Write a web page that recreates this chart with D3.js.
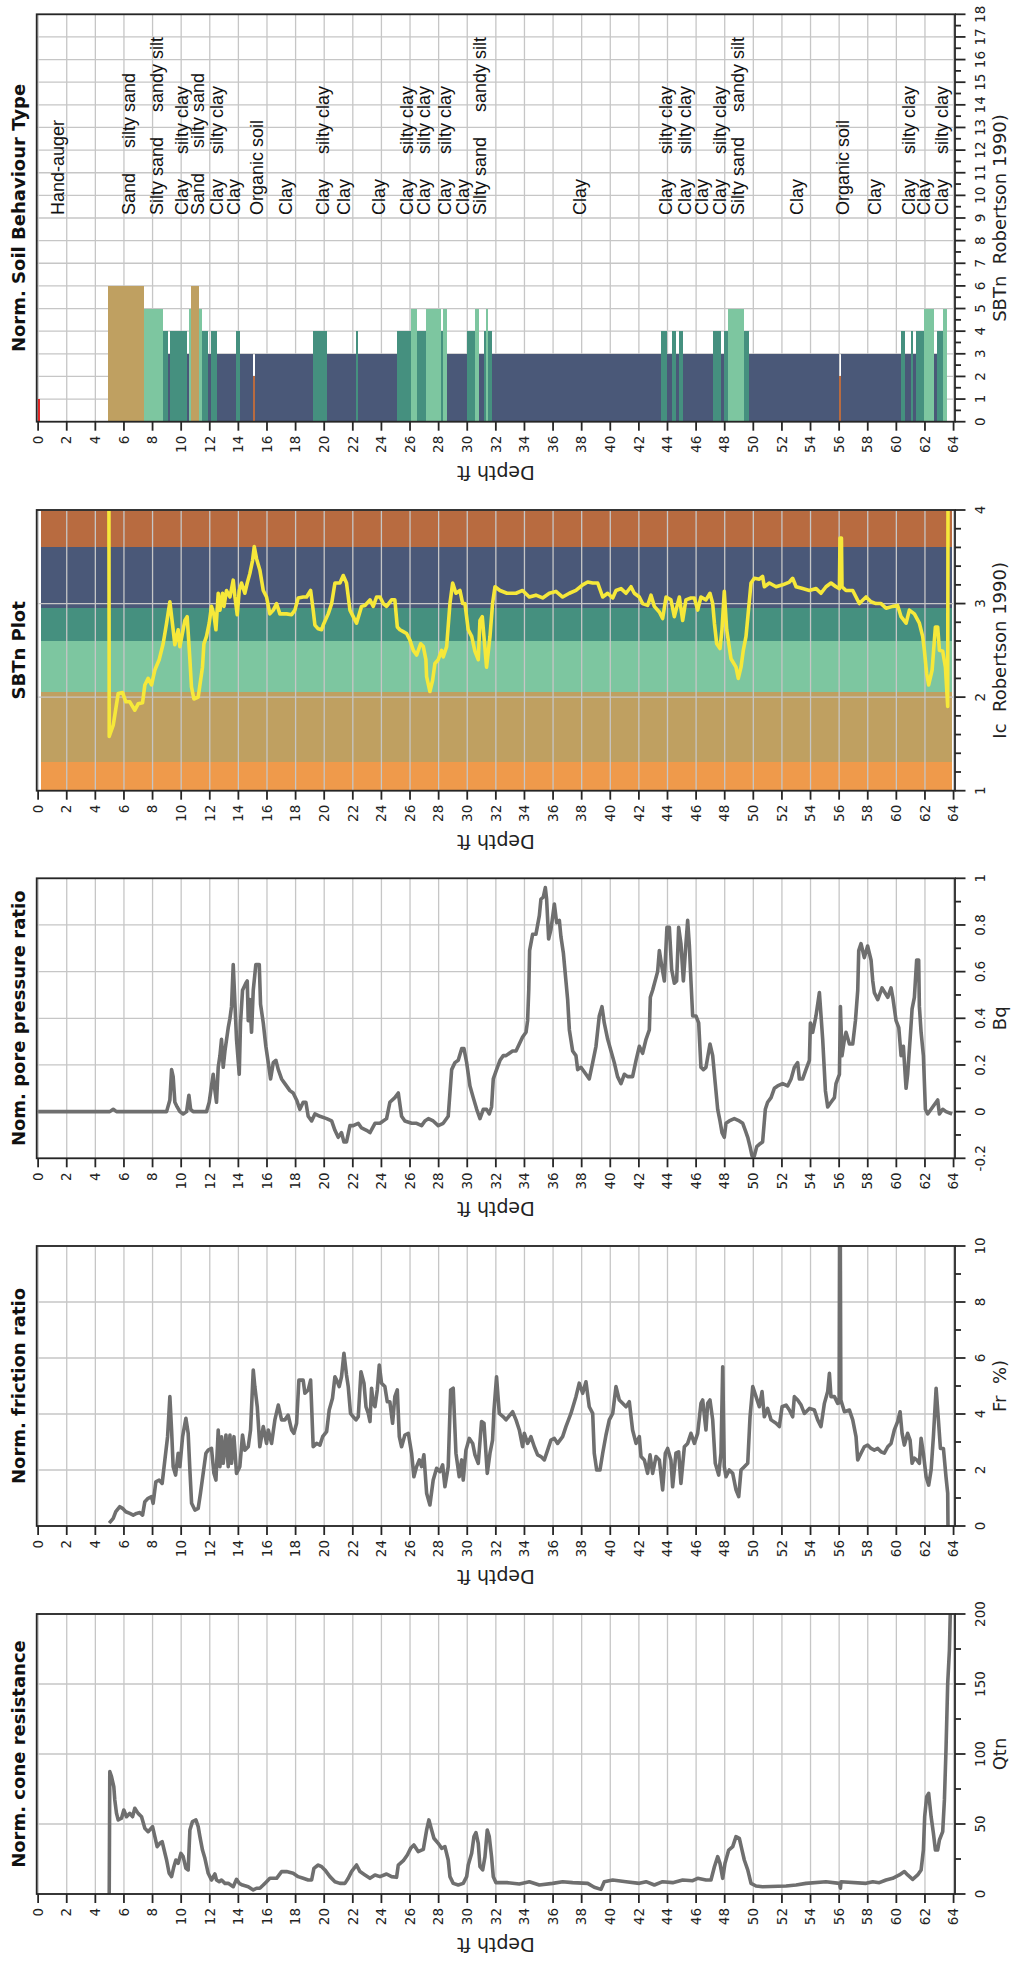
<!DOCTYPE html>
<html><head><meta charset="utf-8">
<script src="https://cdn.jsdelivr.net/npm/d3@7"></script>
<style>body{margin:0;background:#fff} svg{display:block}</style>
</head><body>
<svg id="chart" width="1013" height="1965"></svg>
<script>
// ---------------- DATA ----------------
const depthTicks = [0,2,4,6,8,10,12,14,16,18,20,22,24,26,28,30,32,34,36,38,40,42,44,46,48,50,52,54,56,58,60,62,64];
const sbtTicks = [0,1,2,3,4,5,6,7,8,9,10,11,12,13,14,15,16,17,18];
const icTicks = [1,2,3,4];
const bqTicks = [-0.2,0,0.2,0.4,0.6,0.8,1];
const frTicks = [0,2,4,6,8,10];
const qtnTicks = [0,50,100,150,200];

// SBTn layers: [top depth, bottom depth, zone]
const sbtLayers = [
 [-0.03,0.12,1],[4.9,7.39,6],[7.39,8.72,5],[8.72,9.09,4],[9.09,9.21,3],[9.21,10.38,4],[10.38,10.54,3],
 [10.54,10.68,5],[10.68,11.24,6],[11.24,11.43,5],[11.43,11.47,3],[11.47,11.89,4],[11.89,12.08,3],
 [12.08,12.5,4],[12.5,13.83,3],[13.83,14.1,4],[14.1,14.99,3],[14.99,15.15,2],[15.15,19.19,3],
 [19.19,20.19,4],[20.19,22.22,3],[22.22,22.33,4],[22.33,25.1,3],[25.1,26.04,4],[26.04,26.46,5],
 [26.46,27.09,4],[27.09,28.16,5],[28.16,28.32,4],[28.32,28.6,5],[28.6,29.96,3],[29.96,30.54,4],
 [30.54,30.84,5],[30.84,31.17,3],[31.17,31.31,4],[31.31,31.47,5],[31.47,31.75,4],[31.75,43.55,3],
 [43.55,43.97,4],[43.97,44.31,3],[44.31,44.59,4],[44.59,44.82,3],[44.82,45.06,4],[45.06,47.18,3],
 [47.18,47.74,4],[47.74,47.97,3],[47.97,48.21,4],[48.21,49.33,5],[49.33,49.68,4],[49.68,56.02,3],
 [56.02,56.13,2],[56.13,60.33,3],[60.33,60.61,4],[60.61,61.03,3],[61.03,61.19,4],[61.19,61.38,3],
 [61.38,61.96,4],[61.96,62.66,5],[62.66,62.84,3],[62.84,63.24,4],[63.24,63.55,5]
];
const NB = "\u00a0\u00a0\u00a0\u00a0\u00a0";
const sbtLabelDepths = [1.34,6.30,8.28,10.03,11.13,12.48,13.66,15.27,17.31,19.90,21.38,23.83,25.76,26.97,28.44,29.66,30.89,
 37.83,43.90,45.22,46.40,47.67,48.93,53.04,56.25,58.51,60.85,61.90,63.16];
const sbtLabelTexts = ["Hand-auger","Sand"+NB+"silty sand","Silty sand"+NB+"sandy silt","Clay"+NB+"silty clay","Sand"+NB+"silty sand",
 "Clay"+NB+"silty clay","Clay","Organic soil","Clay","Clay"+NB+"silty clay","Clay","Clay","Clay"+NB+"silty clay",
 "Clay"+NB+"silty clay","Clay"+NB+"silty clay","Clay","Silty sand"+NB+"sandy silt",
 "Clay","Clay"+NB+"silty clay","Clay"+NB+"silty clay","Clay","Clay"+NB+"silty clay","Silty sand"+NB+"sandy silt",
 "Clay","Organic soil","Clay","Clay"+NB+"silty clay","Clay","Clay"+NB+"silty clay"];

// Ic zone boundaries (Robertson 1990)
const icZoneBounds = [1,1.31,2.05,2.60,2.95,3.60,4.0];
const icBandDepths = [0.17,63.9];

const icSeries = [[4.95,4.0],[4.97,1.58],[5.25,1.70],[5.60,2.04],[5.90,2.05],[6.13,1.95],[6.41,1.95],[6.76,1.86],[7.00,1.93],[7.30,1.94],[7.46,2.13],[7.69,2.20],[7.93,2.13],[8.16,2.29],[8.46,2.40],[8.74,2.57],[8.98,2.79],[9.21,3.02],[9.44,2.72],[9.56,2.56],[9.79,2.72],[9.91,2.54],[10.26,2.82],[10.42,2.86],[10.61,2.40],[10.72,2.11],[10.89,1.98],[11.19,2.00],[11.31,2.13],[11.49,2.32],[11.59,2.57],[11.77,2.65],[11.96,2.79],[12.12,2.97],[12.29,2.88],[12.43,2.72],[12.59,3.11],[12.71,2.93],[12.89,3.11],[12.99,2.97],[13.17,3.14],[13.41,3.07],[13.64,3.25],[13.76,3.07],[13.92,2.88],[14.06,3.14],[14.22,3.22],[14.45,3.11],[14.62,3.22],[14.80,3.32],[14.99,3.46],[15.11,3.61],[15.27,3.48],[15.50,3.36],[15.74,3.14],[15.97,3.07],[16.20,2.89],[16.44,2.93],[16.67,3.00],[16.90,2.89],[17.37,2.89],[17.72,2.88],[17.95,2.93],[18.18,3.06],[18.53,3.07],[18.77,3.07],[19.05,3.14],[19.23,2.93],[19.35,2.77],[19.58,2.73],[19.82,2.72],[19.93,2.77],[20.28,2.89],[20.52,3.00],[20.75,3.22],[21.10,3.22],[21.33,3.30],[21.56,3.22],[21.80,2.93],[22.03,2.86],[22.26,2.79],[22.61,2.97],[22.85,2.98],[23.20,3.04],[23.43,2.97],[23.66,3.07],[23.90,3.07],[24.13,3.00],[24.36,2.97],[24.71,3.04],[24.94,3.04],[25.11,2.75],[25.29,2.72],[25.53,2.70],[25.76,2.68],[25.99,2.61],[26.23,2.50],[26.46,2.45],[26.74,2.57],[26.93,2.54],[27.11,2.40],[27.16,2.22],[27.39,2.06],[27.58,2.18],[27.74,2.36],[27.97,2.40],[28.21,2.50],[28.32,2.43],[28.56,2.54],[28.79,3.00],[28.98,3.22],[29.21,3.11],[29.49,3.14],[29.68,3.00],[29.84,3.00],[30.07,2.72],[30.31,2.65],[30.54,2.49],[30.77,2.40],[30.89,2.82],[31.05,2.86],[31.35,2.32],[31.59,2.65],[31.77,3.00],[31.94,3.18],[32.29,3.14],[32.78,3.11],
 [33.41,3.11],[33.87,3.14],[34.34,3.07],[34.80,3.09],[35.27,3.06],[35.74,3.11],[36.20,3.13],[36.67,3.07],[37.14,3.11],[37.60,3.14],[38.07,3.20],[38.42,3.23],[38.77,3.22],[39.12,3.22],[39.47,3.07],[39.82,3.11],[40.17,3.06],[40.40,3.14],[40.75,3.16],[41.10,3.11],[41.45,3.18],[41.68,3.11],[42.03,3.07],[42.26,3.00],[42.61,2.98],[42.85,3.09],[43.08,2.97],[43.43,2.91],[43.66,2.84],[43.90,3.07],[44.24,3.04],[44.48,2.86],[44.71,3.00],[44.83,3.07],[45.06,2.82],[45.29,3.04],[45.64,3.06],[45.88,3.06],[46.11,2.93],[46.34,3.07],[46.69,3.04],[46.97,3.11],[47.16,3.00],[47.28,2.79],[47.44,2.57],[47.67,2.52],[47.81,2.72],[47.97,3.13],[48.14,2.72],[48.44,2.41],[48.79,2.32],[48.95,2.20],[49.14,2.32],[49.30,2.50],[49.49,2.65],[49.84,3.22],[50.07,3.27],[50.42,3.26],[50.65,3.29],[50.77,3.18],[51.12,3.22],[51.59,3.18],[52.05,3.20],[52.52,3.23],[52.75,3.27],[52.99,3.18],[53.45,3.16],[53.92,3.14],[54.39,3.16],[54.73,3.11],[55.08,3.18],[55.43,3.22],[55.78,3.18],[56.02,3.16],[56.06,3.70],[56.16,3.70],[56.20,3.18],[56.48,3.14],[56.95,3.14],[57.18,3.07],[57.41,3.00],[57.88,3.07],[58.23,3.02],[58.58,3.00],[58.93,3.00],[59.28,2.95],[59.74,2.97],[60.09,2.98],[60.33,2.86],[60.68,2.79],[60.91,2.93],[61.26,2.89],[61.61,2.79],[61.84,2.65],[61.96,2.50],[62.12,2.25],[62.26,2.13],[62.50,2.29],[62.73,2.75],[62.89,2.75],[63.01,2.50],[63.24,2.49],[63.43,2.32],[63.59,1.90],[63.61,4.0]];

const bqSeries = [[0,0],[5.01,0],[5.25,0.01],[5.48,0],[8.74,0],[8.98,0],[9.21,0.05],[9.33,0.18],[9.44,0.15],[9.56,0.04],[9.72,0.02],[9.91,0],[10.14,-0.01],[10.38,0],[10.54,0.07],[10.66,0.01],[10.84,0],[11.77,0],[11.96,0.04],[12.12,0.11],[12.24,0.16],[12.36,0.09],[12.47,0.04],[12.59,0.19],[12.71,0.24],[12.82,0.31],[12.94,0.19],[13.06,0.26],[13.29,0.36],[13.41,0.40],[13.52,0.45],[13.64,0.63],[13.87,0.31],[14.06,0.16],[14.15,0.38],[14.29,0.52],[14.52,0.55],[14.62,0.56],[14.69,0.39],[14.80,0.48],[14.92,0.34],[15.04,0.52],[15.22,0.63],[15.46,0.63],[15.55,0.46],[15.74,0.38],[15.92,0.28],[16.09,0.21],[16.25,0.14],[16.44,0.21],[16.62,0.22],[16.79,0.18],[17.02,0.14],[17.25,0.12],[17.60,0.09],[17.83,0.08],[18.07,0.05],[18.30,0.01],[18.53,0.04],[18.72,0.04],[18.88,-0.02],[19.12,-0.04],[19.35,-0.01],[19.70,-0.02],[20.17,-0.03],[20.52,-0.04],[20.75,-0.08],[20.98,-0.11],[21.21,-0.09],[21.38,-0.13],[21.56,-0.13],[21.80,-0.06],[22.03,-0.06],[22.38,-0.05],[22.61,-0.07],[22.96,-0.08],[23.20,-0.09],[23.55,-0.05],[23.90,-0.05],[24.36,-0.03],[24.59,0.04],[24.94,0.06],[25.18,0.08],[25.41,-0.02],[25.64,-0.04],[26.11,-0.05],[26.46,-0.05],[26.81,-0.06],[27.04,-0.04],[27.28,-0.03],[27.62,-0.04],[27.97,-0.06],[28.32,-0.05],[28.67,-0.02],[28.91,0.18],[29.14,0.21],[29.37,0.22],[29.61,0.27],[29.77,0.27],[29.96,0.21],[30.19,0.11],[30.42,0.06],[30.66,0.01],[30.89,-0.03],[31.01,-0.01],[31.12,0.01],[31.35,0.01],[31.54,-0.01],[31.70,0.02],[31.82,0.14],[32.05,0.18],[32.29,0.22],[32.52,0.24],[32.71,0.24],[33.17,0.26],[33.41,0.26],[33.64,0.29],[33.87,0.32],[34.11,0.34],[34.22,0.39],[34.30,0.52],[34.36,0.69],[34.57,0.76],[34.80,0.76],[35.04,0.84],[35.15,0.91],[35.32,0.92],[35.46,0.96],[35.55,0.91],[35.69,0.74],[35.85,0.78],[36.09,0.89],[36.25,0.81],[36.44,0.82],[36.55,0.75],[36.72,0.68],[36.90,0.56],[37.02,0.48],[37.14,0.35],[37.37,0.26],[37.60,0.24],[37.72,0.18],[37.95,0.19],[38.30,0.16],[38.53,0.14],[38.77,0.21],[39.00,0.28],[39.23,0.41],[39.42,0.45],[39.58,0.38],[39.82,0.31],[40.05,0.26],[40.28,0.21],[40.51,0.15],[40.75,0.12],[40.98,0.16],[41.21,0.15],[41.56,0.15],[41.80,0.22],[42.03,0.28],[42.26,0.25],[42.50,0.31],[42.73,0.35],[42.80,0.49],[42.96,0.52],[43.31,0.60],[43.43,0.69],[43.61,0.62],[43.78,0.56],[43.96,0.79],[44.13,0.79],[44.29,0.61],[44.48,0.55],[44.64,0.56],[44.78,0.79],[44.94,0.72],[45.11,0.56],[45.29,0.72],[45.41,0.82],[45.53,0.71],[45.64,0.56],[45.76,0.41],[45.99,0.41],[46.18,0.38],[46.34,0.19],[46.51,0.18],[46.69,0.19],[46.97,0.29],[47.16,0.24],[47.34,0.12],[47.51,0.01],[47.67,-0.04],[47.81,-0.09],[47.97,-0.11],[48.09,-0.05],[48.32,-0.04],[48.67,-0.03],[49.02,-0.04],[49.26,-0.05],[49.44,-0.08],[49.61,-0.11],[49.77,-0.15],[49.91,-0.19],[50.07,-0.19],[50.24,-0.15],[50.42,-0.14],[50.65,-0.13],[50.84,0.01],[51.00,0.04],[51.24,0.06],[51.47,0.10],[51.70,0.11],[52.05,0.12],[52.40,0.11],[52.64,0.14],[52.87,0.19],[53.10,0.21],[53.22,0.14],[53.45,0.14],[53.68,0.18],[53.92,0.22],[53.99,0.38],[54.15,0.34],[54.38,0.41],[54.62,0.51],[54.85,0.31],[55.04,0.09],[55.20,0.02],[55.43,0.04],[55.67,0.06],[55.78,0.12],[56.02,0.16],[56.09,0.45],[56.20,0.24],[56.37,0.31],[56.48,0.34],[56.72,0.29],[56.95,0.29],[57.14,0.39],[57.30,0.52],[57.37,0.69],[57.53,0.72],[57.76,0.66],[57.99,0.71],[58.23,0.65],[58.35,0.56],[58.46,0.51],[58.70,0.48],[59.00,0.53],[59.40,0.49],[59.63,0.53],[59.75,0.49],[59.98,0.39],[60.17,0.36],[60.33,0.24],[60.49,0.28],[60.68,0.10],[60.79,0.16],[60.96,0.31],[61.10,0.44],[61.26,0.49],[61.42,0.65],[61.56,0.65],[61.61,0.45],[61.73,0.34],[61.89,0.24],[62.03,0.01],[62.19,-0.01],[62.54,0.02],[62.89,0.05],[63.01,-0.01],[63.24,0.01],[63.47,0],[63.90,-0.01]];

const frSeries = [[4.97,0.10],[5.25,0.27],[5.43,0.51],[5.71,0.69],[5.90,0.63],[6.13,0.51],[6.41,0.45],[6.65,0.39],[6.88,0.45],[7.11,0.48],[7.30,0.39],[7.46,0.87],[7.69,0.99],[7.93,1.05],[8.04,0.81],[8.23,1.58],[8.46,1.64],[8.67,1.52],[8.86,2.36],[9.05,3.19],[9.21,4.62],[9.33,3.43],[9.44,2.12],[9.61,1.82],[9.79,2.60],[9.91,2.12],[10.10,3.19],[10.33,3.85],[10.49,3.31],[10.61,2.00],[10.73,0.81],[10.96,0.57],[11.19,0.63],[11.35,1.17],[11.54,1.88],[11.73,2.60],[11.89,2.71],[12.12,2.77],[12.29,1.88],[12.43,1.64],[12.59,3.43],[12.71,2.12],[12.82,3.19],[12.94,2.24],[13.13,3.25],[13.29,2.12],[13.41,3.25],[13.52,2.24],[13.69,3.19],[13.87,1.88],[14.10,2.12],[14.29,3.25],[14.45,2.71],[14.69,2.83],[14.85,3.43],[15.04,5.57],[15.15,4.98],[15.32,4.26],[15.50,2.83],[15.74,3.55],[15.97,2.95],[16.09,3.43],[16.32,2.95],[16.55,3.79],[16.79,4.32],[17.02,3.79],[17.25,3.79],[17.48,3.96],[17.72,3.43],[17.88,3.31],[18.07,3.67],[18.23,5.21],[18.53,5.21],[18.65,4.74],[18.88,4.86],[19.05,5.21],[19.23,2.83],[19.47,2.95],[19.70,2.89],[19.89,3.19],[20.17,3.37],[20.35,4.14],[20.58,4.56],[20.75,5.33],[20.87,5.21],[21.05,4.98],[21.21,5.33],[21.38,6.17],[21.56,5.39],[21.68,4.98],[21.84,4.02],[22.03,3.90],[22.22,3.79],[22.38,3.90],[22.57,5.51],[22.78,5.10],[22.92,4.26],[23.08,4.02],[23.20,3.73],[23.31,4.92],[23.43,4.38],[23.55,4.26],[23.71,4.86],[23.85,5.75],[24.01,5.10],[24.24,4.98],[24.41,4.44],[24.59,4.44],[24.78,3.67],[24.94,4.62],[25.11,4.86],[25.25,3.19],[25.41,2.83],[25.64,3.25],[25.88,3.31],[26.11,2.60],[26.27,1.76],[26.46,2.12],[26.65,2.36],[26.81,2.12],[26.97,2.54],[27.16,1.17],[27.39,0.75],[27.62,1.64],[27.86,2.06],[28.09,1.94],[28.28,2.18],[28.44,1.40],[28.67,2.12],[28.84,4.86],[29.02,4.92],[29.21,2.60],[29.44,1.76],[29.61,2.36],[29.72,1.64],[29.91,2.71],[30.14,3.13],[30.38,2.95],[30.54,2.54],[30.77,2.24],[31.00,3.73],[31.17,3.67],[31.40,1.88],[31.59,2.60],[31.77,3.07],[31.87,4.14],[32.05,5.33],[32.24,4.02],[32.52,3.90],
 [32.71,3.79],[33.17,4.08],[33.41,3.79],[33.64,3.43],[33.87,2.83],[33.99,3.31],[34.22,2.95],[34.45,3.19],[34.69,2.83],[34.92,2.54],[35.15,2.48],[35.39,2.36],[35.62,2.71],[35.85,3.07],[36.09,3.13],[36.32,2.95],[36.67,3.19],[36.90,3.55],[37.25,4.02],[37.60,4.62],[37.83,5.10],[38.07,4.74],[38.30,5.15],[38.53,4.26],[38.77,4.02],[38.88,2.60],[39.05,2.00],[39.28,2.00],[39.47,2.60],[39.70,3.25],[39.93,3.79],[40.17,4.02],[40.40,4.98],[40.63,4.50],[40.86,4.38],[41.10,4.26],[41.33,4.44],[41.56,3.43],[41.80,2.95],[42.03,3.19],[42.15,2.48],[42.38,2.36],[42.61,1.88],[42.78,2.54],[42.96,1.88],[43.20,2.48],[43.43,2.36],[43.66,1.29],[43.85,2.60],[44.01,2.77],[44.24,2.36],[44.36,1.40],[44.59,2.60],[44.78,2.65],[44.94,1.52],[45.18,2.83],[45.41,2.95],[45.64,3.31],[45.88,2.95],[46.11,3.31],[46.34,4.38],[46.46,4.50],[46.69,3.43],[46.81,4.38],[46.97,4.50],[47.16,3.79],[47.34,2.24],[47.58,1.82],[47.74,2.60],[47.86,5.69],[47.97,2.12],[48.09,1.76],[48.32,2.00],[48.56,1.88],[48.79,1.29],[48.98,1.05],[49.14,2.00],[49.37,2.12],[49.61,2.24],[49.77,3.90],[49.96,4.98],[50.19,4.62],[50.42,4.26],[50.61,4.80],[50.77,3.90],[51.00,4.20],[51.24,3.79],[51.59,3.67],[51.82,3.55],[52.01,4.26],[52.29,4.32],[52.52,4.14],[52.75,3.90],[52.87,4.62],[53.10,4.50],[53.34,4.32],[53.57,4.02],[53.92,4.20],[54.27,4.14],[54.50,3.79],[54.73,3.55],[54.97,4.38],[55.20,4.80],[55.32,5.45],[55.43,4.62],[55.67,4.62],[55.90,4.38],[56.00,4.40],[56.03,10.5],[56.08,10.5],[56.12,4.50],[56.37,4.08],[56.72,4.14],[56.95,3.79],[57.18,3.19],[57.30,2.36],[57.53,2.60],[57.76,2.83],[57.99,2.89],[58.23,2.77],[58.46,2.71],[58.70,2.77],[58.93,2.65],[59.16,2.60],[59.40,2.83],[59.63,2.95],[59.86,3.43],[60.09,3.73],[60.26,4.08],[60.40,3.31],[60.56,2.89],[60.79,3.31],[60.96,3.07],[61.10,2.24],[61.26,2.42],[61.42,2.36],[61.61,2.24],[61.73,3.13],[61.89,2.60],[62.08,1.76],[62.26,1.46],[62.43,2.00],[62.59,3.19],[62.78,4.92],[62.94,3.79],[63.08,2.77],[63.29,2.77],[63.47,1.76],[63.59,1.17],[63.61,0]];

const qtnSeries = [[4.97,0],[5.01,87.4],[5.13,83.8],[5.29,76.7],[5.36,67.2],[5.48,57.6],[5.60,52.9],[5.83,54.1],[5.99,60.0],[6.18,55.2],[6.41,57.6],[6.60,55.2],[6.76,61.2],[6.99,57.6],[7.23,55.2],[7.46,46.9],[7.69,44.5],[8.00,48.1],[8.16,41.0],[8.32,33.8],[8.51,36.2],[8.67,37.4],[8.81,31.4],[8.98,24.3],[9.16,14.8],[9.33,12.4],[9.49,19.5],[9.63,24.3],[9.79,21.9],[9.98,29.0],[10.14,26.7],[10.33,18.3],[10.49,17.2],[10.61,45.7],[10.79,51.7],[11.03,52.9],[11.19,48.1],[11.31,41.0],[11.49,31.4],[11.66,25.5],[11.89,14.8],[12.12,10.0],[12.36,14.3],[12.47,10.0],[12.66,8.8],[12.82,10.0],[13.06,7.6],[13.29,7.6],[13.64,5.2],[13.87,10.5],[14.06,7.6],[14.29,6.4],[14.69,5.2],[15.04,2.9],[15.27,4.1],[15.50,4.1],[15.74,6.4],[15.97,8.8],[16.20,11.2],[16.67,11.2],[17.02,16.0],[17.37,16.0],[17.83,14.8],[18.18,12.4],[18.53,11.2],[18.88,10.0],[19.12,10.0],[19.28,18.3],[19.58,20.7],[19.82,19.5],[20.05,17.2],[20.40,12.4],[20.75,8.8],[21.10,7.6],[21.45,7.6],[21.68,11.2],[21.91,16.0],[22.26,20.7],[22.50,16.0],[22.85,13.6],[23.20,11.2],[23.55,13.6],[23.90,12.4],[24.36,14.3],[24.71,12.4],[25.06,11.9],[25.18,20.7],[25.53,23.8],[25.81,27.9],[26.04,32.6],[26.27,35.0],[26.57,30.3],[26.93,31.9],[27.16,45.7],[27.32,52.9],[27.51,45.7],[27.67,39.8],[27.97,36.2],[28.21,32.6],[28.44,33.8],[28.67,24.3],[28.79,12.4],[29.02,7.6],[29.37,6.4],[29.72,7.6],[29.96,12.4],[30.07,20.7],[30.31,29.1],[30.47,41.0],[30.61,43.8],[30.77,36.2],[30.89,19.5],[31.08,17.2],[31.24,26.7],[31.40,45.7],[31.54,41.0],[31.70,26.7],[31.82,12.4],[32.01,8.1],[32.78,8.1],
 [33.64,7.1],[34.34,8.8],[35.04,6.4],[35.97,7.6],[36.67,8.8],[37.37,8.1],[38.42,7.6],[38.88,4.8],[39.35,3.3],[39.58,8.8],[40.17,10.0],[41.10,8.8],[42.03,7.6],[42.50,8.8],[43.08,6.4],[43.66,8.8],[44.36,8.1],[45.06,10.0],[45.76,9.5],[46.11,11.2],[46.69,10.0],[47.04,10.0],[47.28,19.5],[47.51,26.7],[47.67,21.9],[47.86,11.2],[48.02,21.9],[48.28,31.4],[48.56,33.8],[48.79,41.0],[49.02,39.8],[49.21,31.4],[49.37,24.3],[49.61,17.2],[49.84,7.6],[50.19,5.7],[50.65,5.2],[52.29,5.7],[52.99,6.4],[53.68,7.6],[55.08,8.8],[56.02,7.6],[56.09,4.1],[56.13,8.8],[57.88,7.6],[58.35,8.8],[58.81,8.1],[59.28,10.0],[59.74,11.2],[60.21,13.6],[60.56,16.0],[60.79,13.6],[61.14,10.5],[61.49,13.6],[61.73,17.2],[61.89,31.4],[61.98,55.3],[62.12,69.5],[62.26,71.9],[62.43,55.3],[62.59,43.4],[62.73,31.4],[62.89,31.4],[63.01,38.6],[63.24,44.5],[63.36,67.2],[63.47,102.9],[63.59,150.5],[63.71,174.3],[63.78,205]];

// ---------------- STYLE / LAYOUT ----------------
const W = 1013, H = 1965;
const plotLeft = 36.7, plotRight = 955;
const FONT = "'DejaVu Sans', Verdana, sans-serif";
const zoneColor = {1:"#e02828",2:"#b86b40",3:"#4a5878",4:"#45907f",5:"#7dc6a0",6:"#bfa061",7:"#ef9a4b"};
const icBandColors = ["#ef9a4b","#bfa061","#7dc6a0","#45907f","#4a5878","#b86b40"];
const lineGray = "#6f6f6f", lineYellow = "#f6e83a", gridColor = "#c6c6c6", axisColor = "#262626";

const panels = [
 {key:"sbt", top:14.3, bottom:421.7, domain:[0,18], ticks:sbtTicks, minorStep:0.5, grid:sbtTicks,
  title:"Norm. Soil Behaviour Type", axisTitle:"SBTn\u00a0\u00a0Robertson 1990)"},
 {key:"ic", top:510, bottom:790.7, domain:[1,4], ticks:icTicks, minorStep:0.2, grid:icTicks,
  title:"SBTn Plot", axisTitle:"Ic\u00a0\u00a0Robertson 1990)"},
 {key:"bq", top:878.3, bottom:1158.3, domain:[-0.2,1], ticks:bqTicks, minorStep:0.1, grid:bqTicks,
  title:"Nom. pore pressure ratio", axisTitle:"Bq"},
 {key:"fr", top:1246, bottom:1526, domain:[0,10], ticks:frTicks, minorStep:1, grid:frTicks,
  title:"Norm. friction ratio", axisTitle:"Fr\u00a0\u00a0%)"},
 {key:"qtn", top:1614, bottom:1894, domain:[0,200], ticks:qtnTicks, minorStep:25, grid:qtnTicks,
  title:"Norm. cone resistance", axisTitle:"Qtn"}
];

const svg = d3.select("#chart");
svg.append("rect").attr("width",W).attr("height",H).attr("fill","#fff");
const defs = svg.append("defs");
const x = d3.scaleLinear().domain([-0.1,64.1]).range([plotLeft,plotRight]);

panels.forEach(p => {
  const y = d3.scaleLinear().domain(p.domain).range([p.bottom,p.top]);
  const g = svg.append("g").attr("class","panel-"+p.key);
  const cid = "clip-"+p.key;
  defs.append("clipPath").attr("id",cid).append("rect")
    .attr("x",plotLeft).attr("y",p.top).attr("width",plotRight-plotLeft).attr("height",p.bottom-p.top);
  const cy = (p.top+p.bottom)/2;

  // Ic colour bands
  if (p.key==="ic") {
    g.append("g").selectAll("rect").data(d3.pairs(icZoneBounds)).join("rect")
      .attr("x",x(icBandDepths[0])).attr("width",x(icBandDepths[1])-x(icBandDepths[0]))
      .attr("y",d=>y(d[1])).attr("height",d=>y(d[0])-y(d[1]))
      .attr("fill",(d,i)=>icBandColors[i]).attr("shape-rendering","crispEdges");
  }

  // grid
  const grid = g.append("g").attr("stroke",gridColor).attr("stroke-width",1.3);
  grid.selectAll("line.v").data(depthTicks).join("line").attr("class","v")
    .attr("x1",d=>x(d)).attr("x2",d=>x(d)).attr("y1",p.top).attr("y2",p.bottom);
  grid.selectAll("line.h").data(p.grid).join("line").attr("class","h")
    .attr("x1",plotLeft).attr("x2",plotRight).attr("y1",d=>y(d)).attr("y2",d=>y(d));

  const content = g.append("g").attr("clip-path",`url(#${cid})`);
  if (p.key==="sbt") {
    content.selectAll("rect").data(sbtLayers).join("rect")
      .attr("x",d=>x(d[0])).attr("width",d=>Math.max(0.8,x(d[1])-x(d[0])))
      .attr("y",d=>y(d[2])).attr("height",d=>y(0)-y(d[2]))
      .attr("fill",d=>zoneColor[d[2]]).attr("shape-rendering","crispEdges");
  } else {
    const series = {ic:icSeries,bq:bqSeries,fr:frSeries,qtn:qtnSeries}[p.key];
    const line = d3.line().x(d=>x(d[0])).y(d=>y(d[1]));
    content.append("path").datum(series).attr("d",line).attr("fill","none")
      .attr("stroke",p.key==="ic"?lineYellow:lineGray).attr("stroke-width",3.6)
      .attr("stroke-linejoin","round").attr("stroke-linecap","butt");
  }

  // frame
  g.append("rect").attr("x",plotLeft).attr("y",p.top).attr("width",plotRight-plotLeft).attr("height",p.bottom-p.top)
    .attr("fill","none").attr("stroke",axisColor).attr("stroke-width",1.8);

  // depth axis ticks + labels
  g.append("g").selectAll("line").data(depthTicks).join("line")
    .attr("x1",d=>x(d)).attr("x2",d=>x(d)).attr("y1",p.bottom).attr("y2",p.bottom+9)
    .attr("stroke",axisColor).attr("stroke-width",1.8);
  g.append("g").selectAll("text").data(depthTicks).join("text")
    .attr("transform",d=>`translate(${x(d)},${p.bottom+14}) rotate(-90)`)
    .attr("text-anchor","end").attr("dy","0.35em")
    .attr("font-family",FONT).attr("font-size",13.5).attr("fill","#222").text(d=>d);
  g.append("text").attr("transform",`translate(${(plotLeft+plotRight)/2},${p.bottom+44}) rotate(180)`)
    .attr("text-anchor","middle").attr("font-family",FONT).attr("font-size",19).attr("fill","#222")
    .text("Depth ft");

  // value axis (right)
  const [d0,d1] = p.domain;
  const minor = d3.range(d0, d1+1e-9, p.minorStep).map(v=>+v.toFixed(4));
  g.append("g").selectAll("line").data(minor).join("line")
    .attr("x1",plotRight).attr("x2",d=>plotRight+(p.ticks.some(t=>Math.abs(t-d)<1e-6)?10.5:6))
    .attr("y1",d=>y(d)).attr("y2",d=>y(d)).attr("stroke",axisColor).attr("stroke-width",1.8);
  g.append("g").selectAll("text").data(p.ticks).join("text")
    .attr("transform",d=>`translate(985,${y(d)}) rotate(-90)`).attr("text-anchor","middle")
    .attr("font-family",FONT).attr("font-size",13.5).attr("fill","#222").text(d=>String(d));
  g.append("text").attr("transform",`translate(1006,${cy}) rotate(-90)`).attr("text-anchor","middle")
    .attr("font-family",FONT).attr("font-size",18).attr("fill","#222").text(p.axisTitle);

  // title
  g.append("text").attr("transform",`translate(24.5,${cy}) rotate(-90)`).attr("text-anchor","middle")
    .attr("font-family",FONT).attr("font-weight","bold").attr("font-size",18).attr("fill","#111").text(p.title);

  // SBT labels
  if (p.key==="sbt") {
    g.append("g").selectAll("text").data(sbtLabelDepths).join("text")
      .attr("transform",d=>`translate(${x(d)},215) rotate(-90)`).attr("text-anchor","start").attr("dy","0.35em")
      .attr("font-family","'Liberation Sans', Arial, sans-serif").attr("font-size",18).attr("fill","#111")
      .text((d,i)=>sbtLabelTexts[i]);
  }
});
</script>
</body></html>
